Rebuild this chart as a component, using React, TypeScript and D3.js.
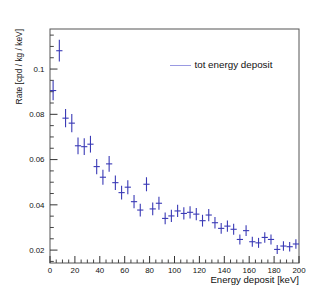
import React from 'react';
import * as d3 from 'd3';

// bin centres in keV (5 keV bins)
const energies = [
  2.5, 7.5, 12.5, 17.5, 22.5, 27.5, 32.5, 37.5, 42.5, 47.5,
  52.5, 57.5, 62.5, 67.5, 72.5, 77.5, 82.5, 87.5, 92.5, 97.5,
  102.5, 107.5, 112.5, 117.5, 122.5, 127.5, 132.5, 137.5, 142.5, 147.5,
  152.5, 157.5, 162.5, 167.5, 172.5, 177.5, 182.5, 187.5, 192.5, 197.5,
];
const binHalfWidth = 2.5;

const rates = [
  0.0905, 0.1081, 0.0783, 0.0761, 0.0661, 0.0657, 0.0668, 0.0569, 0.0522, 0.0581,
  0.0498, 0.0454, 0.0478, 0.0414, 0.0377, 0.0491, 0.0382, 0.0407, 0.0340, 0.0351,
  0.0373, 0.0362, 0.0367, 0.0359, 0.0330, 0.0355, 0.0321, 0.0296, 0.0306, 0.0292,
  0.0247, 0.0286, 0.0237, 0.0232, 0.0256, 0.0247, 0.0203, 0.0218, 0.0215, 0.0227,
];

const errors = [
  0.0043, 0.0048, 0.0040, 0.0040, 0.0037, 0.0037, 0.0037, 0.0034, 0.0033, 0.0035,
  0.0032, 0.0030, 0.0031, 0.0029, 0.0028, 0.0031, 0.0028, 0.0029, 0.0026, 0.0027,
  0.0027, 0.0027, 0.0027, 0.0027, 0.0026, 0.0027, 0.0025, 0.0024, 0.0025, 0.0024,
  0.0022, 0.0024, 0.0022, 0.0022, 0.0023, 0.0022, 0.0020, 0.0021, 0.0021, 0.0021,
];

const xMajor = [0, 20, 40, 60, 80, 100, 120, 140, 160, 180, 200];
const yMajor = [0.02, 0.04, 0.06, 0.08, 0.1];

const FONT = '"Liberation Sans", Arial, sans-serif';
const BLUE = '#3a3ab6';

const frame = { left: 50, right: 299, top: 29, bottom: 263 };

export default function App() {
  const x = d3.scaleLinear().domain([0, 200]).range([frame.left, frame.right]);
  const y = d3.scaleLinear().domain([0.0143, 0.1177]).range([frame.bottom, frame.top]);

  const xMinor = d3.range(0, 200.001, 5).filter(v => !xMajor.includes(v));
  const yMinor = d3.range(0.015, 0.1176, 0.005).filter(v => !yMajor.some(m => Math.abs(m - v) < 1e-6));

  return (
    <svg width={332} height={294} style={{ position: 'absolute', left: 0, top: 0, background: '#fff' }}>
      {/* frame */}
      <rect x={frame.left} y={frame.top} width={frame.right - frame.left} height={frame.bottom - frame.top}
        fill="none" stroke="#555" strokeWidth={1} />

      {/* y axis ticks */}
      {yMajor.map(v => (
        <g key={'ym' + v}>
          <line x1={frame.left} x2={frame.left + 7.5} y1={y(v)} y2={y(v)} stroke="#333" />
          <text x={44.5} y={y(v)} dy="0.36em" textAnchor="end" fontFamily={FONT} fontSize={7.9} fill="#111">
            {d3.format('~g')(v)}
          </text>
        </g>
      ))}
      {yMinor.map(v => (
        <line key={'yn' + v} x1={frame.left} x2={frame.left + 3.8} y1={y(v)} y2={y(v)} stroke="#444" />
      ))}

      {/* x axis ticks */}
      {xMajor.map(v => (
        <g key={'xm' + v}>
          <line x1={x(v)} x2={x(v)} y1={frame.bottom} y2={frame.bottom - 7} stroke="#333" />
          <text x={x(v)} y={273.2} textAnchor="middle" fontFamily={FONT} fontSize={7.9} fill="#111">
            {v}
          </text>
        </g>
      ))}
      {xMinor.map(v => (
        <line key={'xn' + v} x1={x(v)} x2={x(v)} y1={frame.bottom} y2={frame.bottom - 3.5} stroke="#444" />
      ))}

      {/* axis titles */}
      <text x={frame.right} y={283} textAnchor="end" fontFamily={FONT} fontSize={9.6} fill="#111">
        Energy deposit [keV]
      </text>
      <text transform={`translate(21.7, ${frame.top}) rotate(-90)`} textAnchor="end" fontFamily={FONT}
        fontSize={8.4} fill="#111">
        Rate [cpd / kg / keV]
      </text>

      {/* data with error bars */}
      {energies.map((e, i) => (
        <g key={'p' + i} stroke={BLUE} strokeWidth={1.1}>
          <line x1={x(e)} x2={x(e)} y1={y(rates[i] - errors[i])} y2={y(rates[i] + errors[i])} />
          <line x1={x(e - binHalfWidth)} x2={x(e + binHalfWidth)} y1={y(rates[i])} y2={y(rates[i])} />
        </g>
      ))}

      {/* legend */}
      <line x1={170} x2={191} y1={65.5} y2={65.5} stroke="#9a9ae2" strokeWidth={1} />
      <text x={194.5} y={67.8} fontFamily={FONT} fontSize={9.8} fill="#111">tot energy deposit</text>
    </svg>
  );
}
